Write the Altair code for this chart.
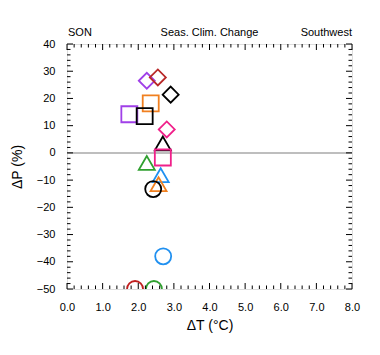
import altair as alt
import pandas as pd
import numpy as np

# Data
dT = [2.24, 2.55, 2.91, 2.35, 1.75, 2.18, 2.80, 2.69, 2.69, 2.24, 2.63, 2.57, 2.42, 2.70, 1.91, 2.44]
dP = [26.5, 27.7, 21.4, 18.2, 14.2, 13.5, 8.6, 3.5, -1.7, -3.7, -8.2, -11.5, -13.3, -38.0, -50.0, -50.0]
markers = ["diamond", "diamond", "diamond", "square", "square", "square", "diamond", "triangle-up",
           "square", "triangle-up", "triangle-up", "triangle-up", "circle", "circle", "circle", "circle"]
colors = ["#a040e8", "#b82828", "#000000", "#f08020", "#a040e8", "#000000", "#f0208a", "#000000",
          "#f0208a", "#30a030", "#2090f0", "#f08020", "#000000", "#2090f0", "#c02020", "#30a030"]

x_major = [0, 1, 2, 3, 4, 5, 6, 7, 8]
y_major = [-50, -40, -30, -20, -10, 0, 10, 20, 30, 40]

W, H = 285, 245
FONT = "Liberation Sans"

df = pd.DataFrame({"dT": dT, "dP": dP, "marker": markers, "color": colors})

xs = alt.Scale(domain=[0, 8], nice=False, zero=False)
ys = alt.Scale(domain=[-50, 40], nice=False, zero=False)

AX = alt.Axis(values=x_major, format=".1f", ticks=False, domain=False, grid=False,
              labelOverlap=False, labelFlush=False, labelBound=False,
              labelPadding=12, labelFontSize=11, labelFont=FONT, labelColor="black",
              titleFont=FONT, titleFontSize=14, titleFontWeight="normal", titlePadding=6,
              titleColor="black")
AY = alt.Axis(values=y_major, format="d", ticks=False, domain=False, grid=False,
              labelOverlap=False, labelFlush=False, labelBound=False,
              labelPadding=12, labelFontSize=11, labelFont=FONT, labelColor="black",
              titleFont=FONT, titleFontSize=14, titleFontWeight="normal", titlePadding=12,
              titleColor="black")
XT = "ΔT (°C)"
YT = "ΔP (%)"

x_minor = [round(v, 2) for v in np.arange(0, 8.0001, 0.2) if abs(v - round(v)) > 1e-6]
y_minor = [v for v in range(-50, 41, 2) if v % 10 != 0]

def xticks(vals, length, top=False):
    d = pd.DataFrame({"t": vals})
    if top:
        y1, y2 = alt.value(0), alt.value(length)
    else:
        y1, y2 = alt.value(H), alt.value(H - length)
    return alt.Chart(d).mark_rule(color="black", strokeWidth=1).encode(
        x=alt.X("t:Q", scale=xs, axis=AX, title=XT), y=y1, y2=y2)

def yticks(vals, length, right=False):
    d = pd.DataFrame({"t": vals})
    if right:
        x1, x2 = alt.value(W), alt.value(W - length)
    else:
        x1, x2 = alt.value(0), alt.value(length)
    return alt.Chart(d).mark_rule(color="black", strokeWidth=1).encode(
        y=alt.Y("t:Q", scale=ys, axis=AY, title=YT), x=x1, x2=x2)

zero = alt.Chart(pd.DataFrame({"z": [0]})).mark_rule(color="#a8a8a8", strokeWidth=1.5).encode(
    y=alt.Y("z:Q", scale=ys, axis=AY, title=YT))

pts = alt.Chart(df).mark_point(filled=False, strokeWidth=1.8, size=256, clip=True, opacity=1).encode(
    x=alt.X("dT:Q", scale=xs, axis=AX, title=XT),
    y=alt.Y("dP:Q", scale=ys, axis=AY, title=YT),
    shape=alt.Shape("marker:N", scale=None),
    color=alt.Color("color:N", scale=None),
)

def label(text, xpos, align):
    return alt.Chart(pd.DataFrame({"t": [text]})).mark_text(
        align=align, baseline="alphabetic", fontSize=11, font=FONT, color="black"
    ).encode(text="t:N", x=alt.value(xpos), y=alt.value(-8))

chart = alt.layer(
    zero, pts,
    xticks(x_major, 6), xticks(x_minor, 3.5),
    xticks(x_major, 6, top=True), xticks(x_minor, 3.5, top=True),
    yticks(y_major, 6), yticks(y_minor, 3.5),
    yticks(y_major, 6, right=True), yticks(y_minor, 3.5, right=True),
    label("SON", 1, "left"), label("Seas. Clim. Change", W / 2, "center"), label("Southwest", W, "right"),
).properties(
    width=W, height=H,
    autosize=alt.AutoSizeParams(type="none"),
    padding={"left": 67, "top": 44, "right": 28, "bottom": 66},
).configure_view(stroke="black", strokeWidth=1.2).configure(background="white").configure_axis(
    labelOverlap=False)

chart.save("out.html", embed_options={"renderer": "svg", "actions": False})
